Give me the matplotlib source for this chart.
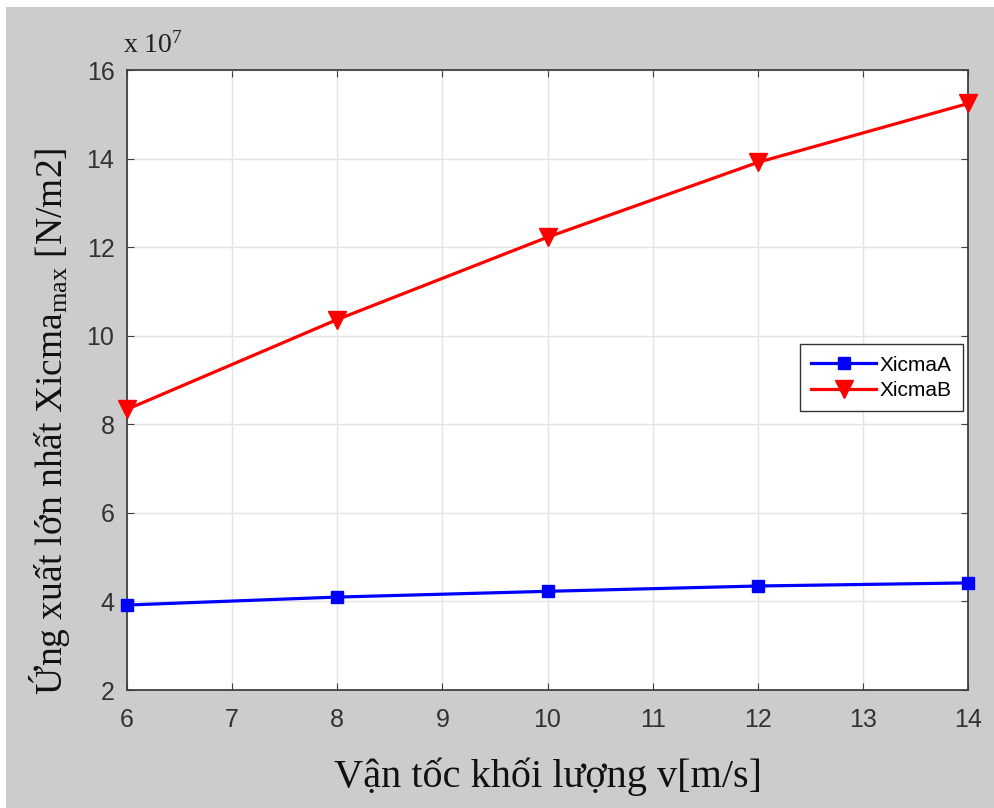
import numpy as np
import matplotlib
matplotlib.use("Agg")
import matplotlib.pyplot as plt
from matplotlib.patches import Rectangle

# van toc v [m/s]
velocity = [6, 8, 10, 12, 14]
# ung suat lon nhat, don vi 1e7 N/m2
xicma_a = [3.92, 4.10, 4.23, 4.35, 4.42]
xicma_b = [8.34, 10.37, 12.23, 13.92, 15.25]

x_ticks = np.arange(6, 15, 1)
y_ticks = np.arange(2, 17, 2)

SERIF = ["Liberation Serif", "DejaVu Serif"]
SANS = ["Liberation Sans", "DejaVu Sans"]

plt.rcParams["mathtext.fontset"] = "custom"
plt.rcParams["mathtext.rm"] = "Liberation Serif"
plt.rcParams["mathtext.it"] = "Liberation Serif:italic"


def main():
    fig = plt.figure(figsize=(9.95, 8.08), dpi=100, facecolor="white")
    # grey MATLAB-like background with thin white border top/left
    fig.patches.append(Rectangle((6 / 995, 0), 1, 1 - 7 / 808, transform=fig.transFigure,
                                 facecolor="#cccccc", edgecolor="none", zorder=-10))

    ax = fig.add_axes([0.1276, 0.146, 0.8454, 0.767])
    ax.set_facecolor("white")

    ax.plot(velocity, xicma_a, color="#0000ff", lw=2.3, marker="s", ms=8.5,
            label="XicmaA", clip_on=False, zorder=3)
    ax.plot(velocity, xicma_b, color="#ff0000", lw=2.3, marker="v", ms=12.5,
            label="XicmaB", clip_on=False, zorder=3)

    ax.set_xlim(6, 14)
    ax.set_ylim(2, 16)
    ax.set_xticks(x_ticks)
    ax.set_yticks(y_ticks)
    ax.grid(True, color="#e4e4e4", lw=1)
    ax.set_axisbelow(True)
    ax.tick_params(direction="in", top=True, right=True, length=5, color="#404040",
                   labelsize=18, labelcolor="#333333")
    ax.tick_params(axis="x", pad=13)
    ax.tick_params(axis="y", pad=9)
    for lbl in ax.get_xticklabels() + ax.get_yticklabels():
        lbl.set_family(SANS)
    for sp in ax.spines.values():
        sp.set_color("#404040")
        sp.set_linewidth(1.3)

    ax.set_xlabel("Vận tốc khối lượng v[m/s]", family=SERIF, fontsize=29, labelpad=18,
                  color="#111111")
    ax.set_ylabel(r"Ứng xuất lớn nhất Xicma$_{\mathrm{max}}$ [N/m2]", family=SERIF,
                  fontsize=27, color="#111111")
    ax.yaxis.set_label_coords(-0.0654, 0.434)
    fig.text(123 / 995, 1 - 53 / 808, r"x 10$^{7}$", family=SERIF, fontsize=20,
             color="#222222", va="baseline")

    leg = ax.legend(loc="upper left", bbox_to_anchor=(0.800, 0.558), borderaxespad=0,
                    fancybox=False, edgecolor="#333333", framealpha=1,
                    prop={"family": SANS, "size": 15}, handlelength=3.1,
                    borderpad=0.55, labelspacing=0.3, handletextpad=0.15)
    leg.get_frame().set_linewidth(1.0)
    leg.set_zorder(5)

    fig.savefig("out.png", dpi=100, facecolor=fig.get_facecolor())


if __name__ == "__main__":
    main()
